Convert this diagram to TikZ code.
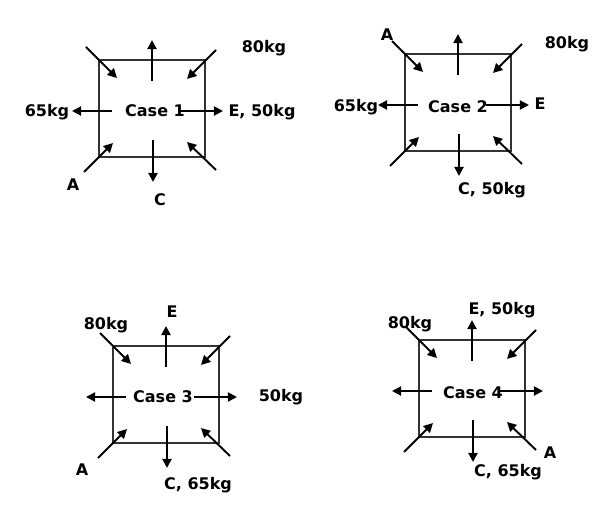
\documentclass[tikz,border=0pt]{standalone}
\usepackage{fontspec}
\setmainfont{DejaVu Sans}
\usetikzlibrary{arrows.meta}

\tikzset{
  force/.style={line width=0.95pt,-{Triangle[length=4.6pt,width=4.6pt]}},
  lbl/.style={font=\fontsize{8}{9.6}\selectfont\bfseries,inner sep=0pt,text depth=0pt},
  forcebox/.pic={
    \draw[line width=0.8pt,black!80] (0,0) rectangle (106,97);
    % corners
    \draw[force] (-13,-13) -- (18,18);
    \draw[force] (117,-10) -- (88,19);
    \draw[force] (-15,112) -- (14,83);
    \draw[force] (117,110) -- (88,82);
    % middle
    \draw[force] (53,21) -- (53,-20);
    \draw[force] (54,80) -- (54,122);
    \draw[force] (13,51) -- (-27,51);
    \draw[force] (81,51) -- (124,51);
  }
}

\begin{document}
\begin{tikzpicture}[x=0.5pt,y=-0.5pt]
  \useasboundingbox (0,0) rectangle (610,508);

  % case 1
  \node[lbl] (c1) at (155,111) {Case 1};
  \pic at (99,60) {forcebox};
  \node[lbl] (c1w) at (264,46) {80kg};
  \node[lbl] (c1l) at (47,110) {65kg};
  \node[lbl] (c1r) at (262,110) {E, 50kg};
  \node[lbl] (c1a) at (73,185) {A};
  \node[lbl] (c1c) at (160,200) {C};

  % case 2
  \node[lbl] (c2) at (458,107) {Case 2};
  \pic at (405,54) {forcebox};
  \node[lbl] (c2a) at (387,35) {A};
  \node[lbl] (c2w) at (567,42) {80kg};
  \node[lbl] (c2l) at (356,105) {65kg};
  \node[lbl] (c2r) at (540,104) {E};
  \node[lbl] (c2c) at (492,188) {C, 50kg};

  % case 3
  \node[lbl] (c3) at (163,397) {Case 3};
  \pic at (113,346) {forcebox};
  \node[lbl] (c3e) at (172,312) {E};
  \node[lbl] (c3w) at (106,323) {80kg};
  \node[lbl] (c3r) at (281,395) {50kg};
  \node[lbl] (c3a) at (82,470) {A};
  \node[lbl] (c3c) at (198,483) {C, 65kg};

  % case 4
  \node[lbl] (c4) at (473,393) {Case 4};
  \pic at (419,340) {forcebox};
  \node[lbl] (c4e) at (502,308) {E, 50kg};
  \node[lbl] (c4w) at (410,322) {80kg};
  \node[lbl] (c4a) at (550,453) {A};
  \node[lbl] (c4c) at (508,470) {C, 65kg};
\end{tikzpicture}
\end{document}
